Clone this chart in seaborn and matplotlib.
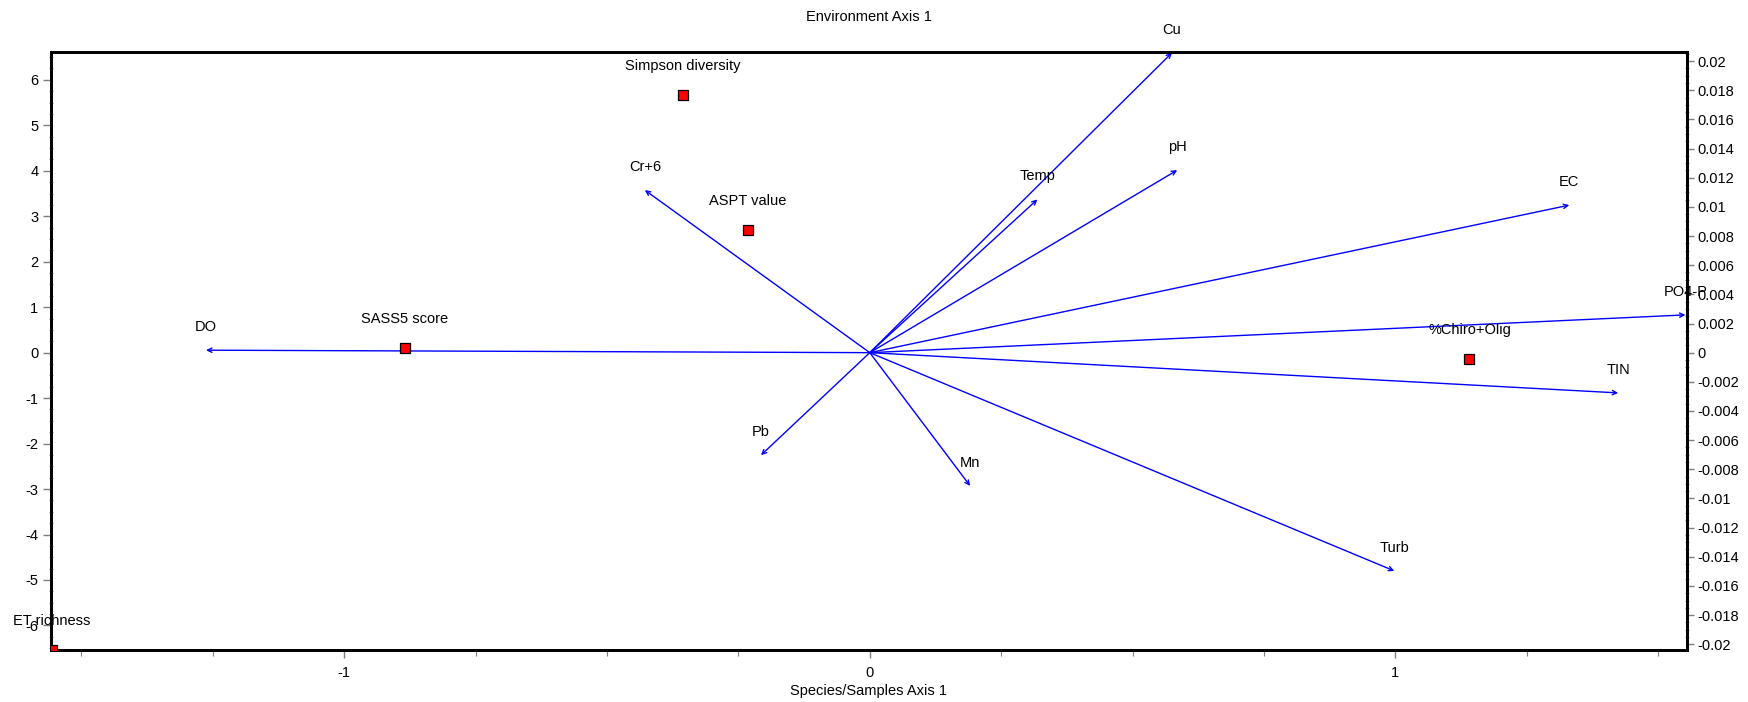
import numpy as np
import pandas as pd
import matplotlib
matplotlib.use("Agg")
import matplotlib.pyplot as plt
from matplotlib.ticker import MultipleLocator, FixedLocator, FuncFormatter
import seaborn as sns

# Species / sample scores (Species/Samples Axis 1, left axis)
species_names = ["Simpson diversity", "ASPT value", "SASS5 score", "%Chiro+Olig", "ET richness"]
species_x = [-0.355, -0.232, -0.885, 1.141, -1.556]
species_y = [5.67, 2.70, 0.10, -0.146, -6.54]

# Environmental variable biplot arrows (x on bottom axis, y on right axis)
env_names = ["Cu", "pH", "Temp", "Cr+6", "EC", "PO4-P", "TIN", "Turb", "Mn", "Pb", "DO"]
env_x = [0.575, 0.585, 0.319, -0.428, 1.331, 1.552, 1.424, 0.998, 0.191, -0.207, -1.263]
env_y = [0.02057, 0.01252, 0.01051, 0.01115, 0.01012, 0.00259, -0.00276, -0.01497,
         -0.00914, -0.00703, 0.00017]

x_major = [-1, 0, 1]
y_left_ticks = list(range(-6, 7))

sns.set_theme(style="white")
plt.rcParams["font.family"] = ["Liberation Sans", "DejaVu Sans"]
plt.rcParams["axes.unicode_minus"] = False

species = pd.DataFrame({"name": species_names, "x": species_x, "y": species_y})
env = pd.DataFrame({"name": env_names, "x": env_x, "y": env_y})

fig = plt.figure(figsize=(17.49, 7.02), dpi=100, facecolor="white")
ax = fig.add_axes([0.0291, 0.0734, 0.9352, 0.8530])
ax2 = ax.twinx()

xlim = (-1.558, 1.554)
ylim = (-6.55, 6.62)
scale = 0.0031184
ax.set_xlim(*xlim)
ax.set_ylim(*ylim)
ax2.set_ylim(ylim[0] * scale, ylim[1] * scale)

# species points above the arrows
ax.set_zorder(ax2.get_zorder() + 1)
ax.patch.set_visible(False)

tick_gray = "#7f7f7f"
fs = 10.5

# environmental arrows
for _, r in env.iterrows():
    ax2.annotate("", xy=(r["x"], r["y"]), xytext=(0, 0), xycoords="data",
                 textcoords="data", annotation_clip=False,
                 arrowprops=dict(arrowstyle="->,head_length=0.45,head_width=0.22",
                                 color="#0000ff", lw=1.0, shrinkA=0, shrinkB=0,
                                 mutation_scale=7))
    ax2.annotate(r["name"], xy=(r["x"], r["y"]), xytext=(0, 16.6),
                 textcoords="offset points", ha="center", va="center",
                 fontsize=fs, color="black", annotation_clip=False)

# species squares
sns.scatterplot(data=species, x="x", y="y", ax=ax, marker="s", s=60,
                color="#ff0000", edgecolor="black", linewidth=0.9,
                legend=False, zorder=5)
for _, r in species.iterrows():
    ax.annotate(r["name"], xy=(r["x"], r["y"]), xytext=(0, 20.9),
                textcoords="offset points", ha="center", va="center",
                fontsize=fs, color="black", annotation_clip=False)

ax.set_xlabel("")
ax.set_ylabel("")

# ticks
ax.xaxis.set_major_locator(FixedLocator(x_major))
ax.xaxis.set_minor_locator(MultipleLocator(0.25))
ax.yaxis.set_major_locator(FixedLocator(y_left_ticks))
ax.yaxis.set_minor_locator(MultipleLocator(0.25))
ax.xaxis.set_major_formatter(FuncFormatter(lambda v, p: f"{v:g}"))
ax.yaxis.set_major_formatter(FuncFormatter(lambda v, p: f"{v:g}"))

ax2.yaxis.set_major_locator(MultipleLocator(0.002))
ax2.yaxis.set_minor_locator(MultipleLocator(0.0005))
ax2.yaxis.set_major_formatter(FuncFormatter(lambda v, p: f"{round(v, 4):g}"))

ax.tick_params(axis="both", which="major", direction="out", length=6, width=1,
               color=tick_gray, labelsize=fs, labelcolor="black", pad=3)
ax.tick_params(axis="x", which="major", pad=5)
ax.tick_params(axis="both", which="minor", direction="inout", length=3, width=0.8,
               color=tick_gray)
ax.tick_params(axis="x", which="minor", direction="out", length=4)
ax.tick_params(left=True, bottom=True, right=False, top=False, which="both")
ax2.tick_params(axis="y", which="major", direction="out", length=5, width=1,
                color=tick_gray, labelsize=fs, labelcolor="black", pad=3)
ax2.tick_params(axis="y", which="minor", direction="inout", length=3, width=0.8,
                color=tick_gray)
ax2.tick_params(right=True, left=False, which="both")

for a in (ax, ax2):
    for sp in a.spines.values():
        sp.set_color("black")
        sp.set_linewidth(2.0)
    a.grid(False)

ax.text(0.5, 1.0574, "Environment Axis 1", transform=ax.transAxes,
        ha="center", va="center", fontsize=fs, color="black")
ax.text(0.5, -0.0676, "Species/Samples Axis 1", transform=ax.transAxes,
        ha="center", va="center", fontsize=fs, color="black")

fig.savefig("out.png", dpi=100, facecolor="white")
